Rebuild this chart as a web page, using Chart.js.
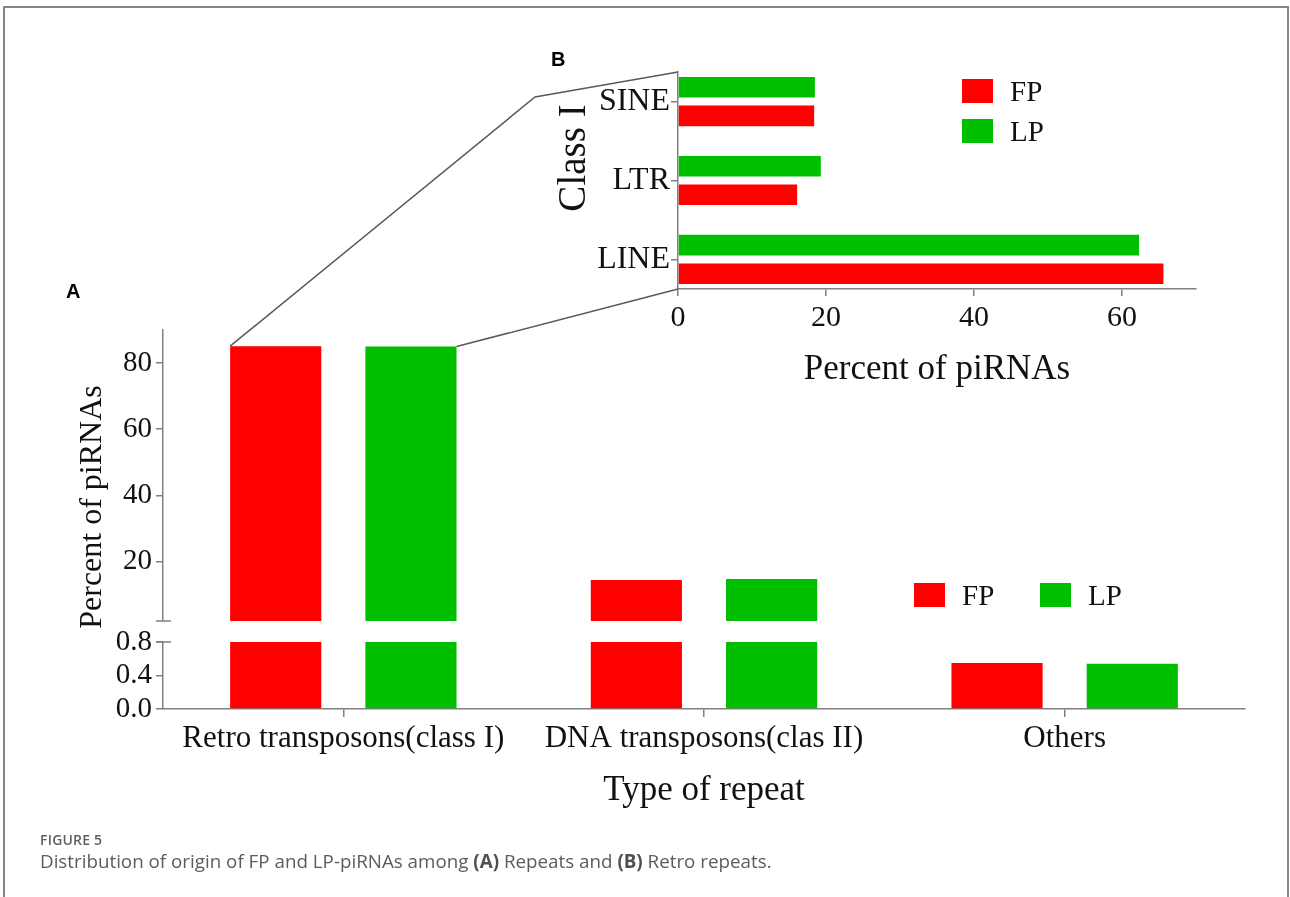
<!DOCTYPE html>
<html>
<head>
<meta charset="utf-8">
<script src="https://cdn.jsdelivr.net/npm/chart.js@4.4.1/dist/chart.umd.min.js"></script>
<style>
  html, body { margin: 0; padding: 0; background: #ffffff; }
  #page { position: relative; width: 1290px; height: 897px; overflow: hidden; background: #ffffff; }
  #frame { position: absolute; left: 3px; top: 6px; width: 1282px; height: 940px;
           border: 2px solid #858585; border-bottom: none; }
  canvas { position: absolute; }
  #mainCanvas { left: 0; top: 0; }
  #insetCanvas { left: 520px; top: 30px; }
  .panel { position: absolute; font-family: "Liberation Sans", Arial, sans-serif; font-weight: bold;
           font-size: 20px; line-height: 20px; color: #000; }
  .serif { position: absolute; font-family: "Liberation Serif", "Times New Roman", serif; color: #111; white-space: nowrap; }
  .legend { position: absolute; font-family: "Liberation Serif", "Times New Roman", serif; font-size: 29px; color: #111; }
  .legend .item { position: absolute; white-space: nowrap; }
  .legend .swatch { position: absolute; width: 31px; height: 24px; }
  .legend .text { position: absolute; line-height: 24px; top: 0; }
  #ylabel { left: 90px; top: 507px; font-size: 32px; transform: translate(-50%, -50%) rotate(-90deg); }
  #insetYlabel { left: 571px; top: 158px; font-size: 39px; transform: translate(-50%, -50%) rotate(-90deg); }
  #caption { position: absolute; left: 40px; top: 831px; font-family: "Open Sans", "Noto Sans", sans-serif; color: #5c5c5c; }
  #caption .fig { font-size: 14px; font-weight: 600; letter-spacing: 0.2px; line-height: 18px; color: #606060; }
  #caption .txt { font-size: 18.8px; line-height: 24px; margin-top: 0px; white-space: nowrap; }
  #caption b { font-weight: 700; color: #505050; }
  svg { position: absolute; left: 0; top: 0; pointer-events: none; }
</style>
</head>
<body>
<div id="page">
  <div id="frame"></div>
  <canvas id="mainCanvas" width="1290" height="897"></canvas>
  <canvas id="insetCanvas" width="720" height="380"></canvas>
  <div class="panel" style="left:66px; top:281px;">A</div>
  <div class="panel" style="left:551px; top:49px;">B</div>
  <div class="serif" id="ylabel">Percent of piRNAs</div>
  <div class="serif" id="insetYlabel">Class I</div>
  <div class="legend" id="mainLegend"></div>
  <div class="legend" id="insetLegend"></div>
  <svg id="connectors" width="1290" height="897"></svg>
  <div id="caption">
    <div class="fig">FIGURE 5</div>
    <div class="txt">Distribution of origin of FP and LP-piRNAs among <b>(A)</b> Repeats and <b>(B)</b> Retro repeats.</div>
  </div>
</div>
<script>
// ---- data ----
const repeatTypes = ['Retro transposons(class I)', 'DNA transposons(clas II)', 'Others'];
const fpRepeats = [85.1, 14.4, 0.55];
const lpRepeats = [85.0, 14.7, 0.54];
const lowerTicks = [0, 0.4, 0.8];
const upperTicks = [20, 40, 60, 80];

const classIFamilies = ['LINE', 'LTR', 'SINE'];
const fpClassI = [65.6, 16.1, 18.4];
const lpClassI = [62.3, 19.3, 18.5];
const classITicks = [0, 20, 40, 60];

const seriesNames = ['FP', 'LP'];
const seriesColors = ['#ff0000', '#00bf00'];

// broken axis: lower segment 0..0.8, upper segment 2..90
const LOWER_MAX = 0.8;
const UPPER_MIN = 2;
const UPPER_MAX = 90;

const serifFont = '"Liberation Serif", "Times New Roman", serif';
const axisGray = '#808080';
const textColor = '#111111';

Chart.defaults.font.family = serifFont;
Chart.defaults.color = textColor;

function lowerPart(values) { return values.map(v => Math.min(v, LOWER_MAX)); }
function upperPart(values) { return values.map(v => (v > UPPER_MIN ? v : null)); }
function fixedTicks(values) { return scale => { scale.ticks = values.map(v => ({ value: v })); }; }

const sharedY = {
  type: 'linear',
  position: 'left',
  stack: 'percent',
  grid: { drawOnChartArea: false, tickLength: 7, color: axisGray, lineWidth: 1.5 },
  border: { color: axisGray, width: 1.5 },
  ticks: { font: { size: 29 }, color: textColor, padding: 4, autoSkip: false },
  afterFit: s => { s.width = 70; }
};

// short marks across the axis where it is broken
const breakMarks = {
  id: 'breakMarks',
  afterDraw(chart) {
    const { ctx } = chart;
    const hi = chart.scales.yHigh, lo = chart.scales.yLow;
    const x = chart.chartArea.left;
    ctx.save();
    ctx.strokeStyle = axisGray;
    ctx.lineWidth = 1.5;
    ctx.beginPath();
    ctx.moveTo(x - 7, hi.bottom); ctx.lineTo(x + 8, hi.bottom);
    ctx.moveTo(x - 7, lo.top); ctx.lineTo(x + 8, lo.top);
    ctx.stroke();
    ctx.restore();
  }
};

const mainDatasets = [];
[fpRepeats, lpRepeats].forEach((values, i) => {
  mainDatasets.push({ label: seriesNames[i], stack: seriesNames[i], yAxisID: 'yLow',
    data: lowerPart(values), backgroundColor: seriesColors[i], borderWidth: 0 });
  mainDatasets.push({ label: seriesNames[i], stack: seriesNames[i], yAxisID: 'yHigh',
    data: upperPart(values), backgroundColor: seriesColors[i], borderWidth: 0 });
});

const mainChart = new Chart(document.getElementById('mainCanvas'), {
  type: 'bar',
  data: { labels: repeatTypes, datasets: mainDatasets },
  options: {
    responsive: false,
    animation: false,
    events: [],
    layout: { padding: { left: 93, top: 330, right: 45, bottom: 85 } },
    datasets: { bar: { categoryPercentage: 0.75, barPercentage: 0.674 } },
    plugins: { legend: { display: false }, tooltip: { enabled: false } },
    scales: {
      x: {
        type: 'category',
        offset: true,
        grid: { offset: false, drawOnChartArea: false, tickLength: 8, color: axisGray, lineWidth: 1.5 },
        border: { color: axisGray, width: 1.5 },
        ticks: { font: { size: 31 }, color: textColor, padding: 3, maxRotation: 0, autoSkip: false },
        title: { display: true, text: 'Type of repeat', font: { size: 35 }, color: textColor, padding: 0 },
        afterFit: s => { s.height = 103; }
      },
      yLow: Object.assign({}, sharedY, {
        weight: 1, stackWeight: 67, min: 0, max: LOWER_MAX,
        afterBuildTicks: fixedTicks(lowerTicks),
        ticks: Object.assign({}, sharedY.ticks, { callback: v => v.toFixed(1) })
      }),
      yGap: { type: 'linear', position: 'left', stack: 'percent', stackWeight: 21, weight: 2, display: false },
      yHigh: Object.assign({}, sharedY, {
        weight: 3, stackWeight: 291, min: UPPER_MIN, max: UPPER_MAX,
        afterBuildTicks: fixedTicks(upperTicks)
      })
    }
  },
  plugins: [breakMarks]
});

const insetChart = new Chart(document.getElementById('insetCanvas'), {
  type: 'bar',
  data: {
    datasets: [
      { label: 'LP', data: classIFamilies.map((f, i) => ({ x: lpClassI[i], y: i })), backgroundColor: seriesColors[1], borderWidth: 0 },
      { label: 'FP', data: classIFamilies.map((f, i) => ({ x: fpClassI[i], y: i })), backgroundColor: seriesColors[0], borderWidth: 0 }
    ]
  },
  options: {
    indexAxis: 'y',
    responsive: false,
    animation: false,
    events: [],
    layout: { padding: { left: 68, top: 42, right: 44, bottom: 19 } },
    datasets: { bar: { categoryPercentage: 0.725, barPercentage: 0.72 } },
    plugins: { legend: { display: false }, tooltip: { enabled: false } },
    scales: {
      x: {
        type: 'linear', min: 0, max: 70,
        afterBuildTicks: fixedTicks(classITicks),
        grid: { drawOnChartArea: false, tickLength: 7, color: axisGray, lineWidth: 1.5 },
        border: { color: axisGray, width: 1.5 },
        ticks: { font: { size: 30 }, color: textColor, padding: 4 },
        title: { display: true, text: 'Percent of piRNAs', font: { size: 35 }, color: textColor, padding: 0 },
        afterFit: s => { s.height = 102; }
      },
      y: {
        type: 'linear', min: -0.375, max: 2.375, offset: false,
        afterBuildTicks: fixedTicks(classIFamilies.map((f, i) => i)),
        grid: { offset: false, drawOnChartArea: false, tickLength: 7, color: axisGray, lineWidth: 1.5 },
        border: { color: axisGray, width: 1.5 },
        ticks: { font: { size: 32 }, color: textColor, padding: 1, callback: v => classIFamilies[v] },
        afterFit: s => { s.width = 90; }
      }
    }
  }
});

// legends
function buildLegend(el, positions) {
  seriesNames.forEach((name, i) => {
    const item = document.createElement('div');
    item.className = 'item';
    item.style.left = positions[i][0] + 'px';
    item.style.top = positions[i][1] + 'px';
    item.innerHTML = '<div class="swatch" style="left:0;top:0;background:' + seriesColors[i] + '"></div>' +
                     '<div class="text" style="left:48px">' + name + '</div>';
    el.appendChild(item);
  });
}
buildLegend(document.getElementById('mainLegend'), [[914, 583], [1040, 583]]);
buildLegend(document.getElementById('insetLegend'), [[962, 79], [962, 119]]);

// connector lines from the class I bars of panel A to panel B
(function drawConnectors() {
  const fpBar = mainChart.getDatasetMeta(1).data[0];
  const lpBar = mainChart.getDatasetMeta(3).data[0];
  const insetBox = document.getElementById('insetCanvas');
  const ox = insetBox.offsetLeft, oy = insetBox.offsetTop;
  const area = insetChart.chartArea;
  const axisTop = [ox + area.left, oy + area.top];
  const axisOrigin = [ox + area.left, oy + area.bottom];
  const bend = [axisTop[0] - 143, axisTop[1] + 25];
  const p1 = [fpBar.x - fpBar.width / 2, fpBar.y];
  const p2 = [lpBar.x + lpBar.width / 2, lpBar.y];
  const svg = document.getElementById('connectors');
  const ns = 'http://www.w3.org/2000/svg';
  const a = document.createElementNS(ns, 'polyline');
  a.setAttribute('points', [p1, bend, axisTop].map(p => p.join(',')).join(' '));
  const b = document.createElementNS(ns, 'polyline');
  b.setAttribute('points', [p2, axisOrigin].map(p => p.join(',')).join(' '));
  [a, b].forEach(l => {
    l.setAttribute('fill', 'none');
    l.setAttribute('stroke', '#5a5a5a');
    l.setAttribute('stroke-width', '1.5');
    svg.appendChild(l);
  });
})();
</script>
</body>
</html>
